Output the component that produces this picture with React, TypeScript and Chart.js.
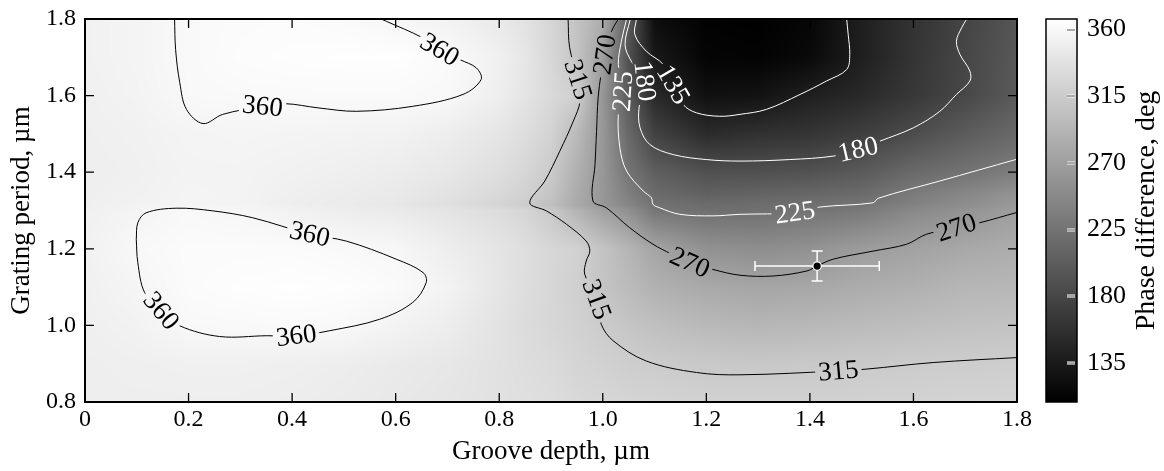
import { useEffect, useRef } from "react";
import { Chart, registerables } from "chart.js";

Chart.register(...registerables);

const FONT = '"Liberation Serif", "Times New Roman", serif';

// ---- axes ----
const xTicks = [0, 0.2, 0.4, 0.6, 0.8, 1.0, 1.2, 1.4, 1.6, 1.8];
const yTicks = [0.8, 1.0, 1.2, 1.4, 1.6, 1.8];
const cbTicks = [135, 180, 225, 270, 315, 360];
const cbMin = 108.7;
const cbMax = 367.1;

const gridX = [0, 0.1, 0.2, 0.3, 0.4, 0.5, 0.6, 0.7, 0.8, 0.85, 0.9, 0.95, 1.0, 1.05, 1.1, 1.2, 1.3, 1.4, 1.5, 1.6, 1.7, 1.8];
const gridY = [0.8, 0.9, 1.0, 1.1, 1.2, 1.3, 1.315, 1.34, 1.4, 1.5, 1.6, 1.7, 1.8];
const phase080 = [350, 350, 350, 350, 349, 347, 344, 341, 337, 335, 333, 328, 326, 324, 323, 321, 320, 320, 321, 322, 323, 324];
const phase090 = [350, 351, 352, 352, 351, 349, 346, 343, 337, 333, 330, 324, 321, 317, 315, 312, 311, 312, 313, 315, 316, 317];
const phase100 = [351, 354, 360.5, 361, 362, 361, 355, 349, 338, 331, 326, 321, 315, 308, 303, 296, 293, 295, 298, 301, 304, 306];
const phase110 = [352, 357, 363, 365, 366, 365, 362, 355, 341, 333, 326, 319, 307, 298, 288, 280, 276, 278, 283, 287, 293, 294];
const phase120 = [353, 360, 363, 363, 363, 361, 359, 350, 340, 334, 326, 321, 307, 292, 276, 256, 252, 256, 267, 273, 279, 284];
const phase130 = [352, 356, 360.5, 358, 353, 349, 346, 340, 332, 325, 312, 291, 271, 255, 228, 221, 222, 226, 231, 247, 257, 269];
const phase1315 = [351, 354, 356, 355, 350, 347, 343, 335, 324, 316, 302, 280, 262, 244, 224, 218, 219, 222, 226, 240, 252, 264];
const phase134 = [351, 353, 356, 355, 351, 348, 345, 338, 328, 320, 307, 282, 262, 238, 218, 208, 211, 214, 218, 234, 246, 259];
const phase140 = [350, 352, 355, 355, 353, 351, 348, 343, 334, 326, 314, 287, 262, 226, 205, 190, 190, 192, 200, 216, 225, 236];
const phase150 = [351, 353, 356, 357, 356, 355, 354, 349, 341, 333, 322, 297, 262, 215, 176, 152, 158, 162, 172, 186, 202, 215];
const phase160 = [352, 355, 360.5, 361.5, 362, 362, 362, 360.5, 350, 340, 329, 318, 261, 200, 150, 125, 127, 140, 150, 165, 181, 200];
const phase170 = [353, 356, 361, 364, 365, 366, 366, 362, 352, 342, 327, 307, 270, 190, 134, 113, 112, 118, 140, 162, 180, 198];
const phase180 = [353, 356, 361, 363, 364, 362, 358, 354, 345, 338, 325, 307, 284, 200, 122, 111, 109, 115, 140, 160, 178, 195];
const phaseGrid = [phase080, phase090, phase100, phase110, phase120, phase130, phase1315, phase134, phase140, phase150, phase160, phase170, phase180];

// ---- contour lines (groove depth, grating period) ----
type P = { x: number; y: number };
const pts = (a: number[][]): P[] => a.map(([x, y]) => ({ x, y }));

const contour360Upper = pts([
  [0.173, 1.8], [0.175, 1.72], [0.183, 1.634], [0.196, 1.564], [0.228, 1.527], [0.266, 1.551], [0.343, 1.572],
  [0.386, 1.579], [0.45, 1.568], [0.524, 1.559], [0.633, 1.572], [0.73, 1.603], [0.765, 1.642], [0.756, 1.672],
  [0.724, 1.694], [0.685, 1.72], [0.652, 1.751], [0.582, 1.794], [0.572, 1.8],
]);
const contour360Lower = pts([
  [0.099, 1.225], [0.102, 1.268], [0.118, 1.294], [0.176, 1.306], [0.247, 1.299], [0.324, 1.281], [0.434, 1.238],
  [0.505, 1.22], [0.601, 1.173], [0.653, 1.138], [0.659, 1.112], [0.633, 1.06], [0.569, 1.016], [0.472, 0.986],
  [0.408, 0.973], [0.35, 0.973], [0.26, 0.971], [0.183, 0.999], [0.147, 1.038], [0.115, 1.086], [0.102, 1.164],
  [0.099, 1.225],
]);
const contour315 = pts([
  [0.933, 1.8], [0.936, 1.725], [0.952, 1.642], [0.956, 1.585], [0.943, 1.533], [0.917, 1.455], [0.888, 1.377],
  [0.859, 1.32], [0.891, 1.299], [0.93, 1.264], [0.968, 1.22], [0.975, 1.194], [0.968, 1.168], [0.965, 1.134],
  [0.988, 1.068], [0.997, 1.003], [1.02, 0.96], [1.084, 0.907], [1.181, 0.877], [1.265, 0.871], [1.455, 0.881],
  [1.51, 0.886], [1.638, 0.903], [1.8, 0.916],
]);
const contour270 = pts([
  [1.03, 1.8], [1.017, 1.768], [1.004, 1.707], [0.997, 1.659], [0.991, 1.594], [0.988, 1.507], [0.985, 1.42],
  [0.981, 1.325], [1.007, 1.307], [1.052, 1.255], [1.097, 1.212], [1.133, 1.186], [1.168, 1.164], [1.213, 1.146],
  [1.265, 1.131], [1.329, 1.129], [1.394, 1.142], [1.414, 1.155], [1.445, 1.173], [1.522, 1.194], [1.587, 1.212],
  [1.625, 1.238], [1.683, 1.255], [1.728, 1.268], [1.8, 1.295],
]);
const contour225 = pts([
  [1.046, 1.8], [1.036, 1.742], [1.03, 1.681], [1.039, 1.611], [1.03, 1.551], [1.033, 1.464], [1.046, 1.403],
  [1.078, 1.351], [1.094, 1.333], [1.097, 1.316], [1.11, 1.307], [1.149, 1.29], [1.213, 1.286], [1.265, 1.29],
  [1.371, 1.294], [1.419, 1.309], [1.522, 1.32], [1.532, 1.332], [1.651, 1.377], [1.8, 1.434],
]);
const contour180 = pts([
  [1.053, 1.8], [1.043, 1.733], [1.055, 1.69], [1.081, 1.638], [1.07, 1.568], [1.072, 1.516], [1.091, 1.472],
  [1.136, 1.446], [1.2, 1.433], [1.265, 1.429], [1.361, 1.433], [1.445, 1.442], [1.493, 1.459], [1.535, 1.481],
  [1.6, 1.516], [1.651, 1.559], [1.683, 1.603], [1.709, 1.638], [1.709, 1.664], [1.69, 1.707], [1.683, 1.742],
  [1.693, 1.777], [1.703, 1.8],
]);
const contour135 = pts([
  [1.065, 1.8], [1.062, 1.759], [1.084, 1.716], [1.117, 1.681], [1.136, 1.629], [1.155, 1.577], [1.181, 1.555],
  [1.226, 1.546], [1.265, 1.551], [1.316, 1.564], [1.381, 1.603], [1.432, 1.638], [1.471, 1.668], [1.477, 1.707],
  [1.474, 1.759], [1.471, 1.8],
]);

const contourSets = [
  { level: 360, color: "#000", points: contour360Upper },
  { level: 360, color: "#000", points: contour360Lower },
  { level: 315, color: "#000", points: contour315 },
  { level: 270, color: "#000", points: contour270 },
  { level: 225, color: "#fff", points: contour225 },
  { level: 180, color: "#fff", points: contour180 },
  { level: 135, color: "#fff", points: contour135 },
];

// contour labels: level, position (data), rotation (deg)
const labelLevels = [360, 360, 360, 360, 360, 315, 315, 315, 270, 270, 270, 225, 225, 180, 180, 135];
const labelX = [0.343, 0.685, 0.434, 0.408, 0.147, 0.952, 0.988, 1.455, 1.004, 1.168, 1.683, 1.039, 1.371, 1.081, 1.493, 1.136];
const labelY = [1.572, 1.72, 1.238, 0.973, 1.038, 1.642, 1.068, 0.881, 1.707, 1.164, 1.255, 1.611, 1.294, 1.638, 1.459, 1.629];
const labelAngle = [6, 31, 13, -7, 50, 72, 70, -5, -82, 24, -18, -86, -8, 83, -13, 60];

// measured point with error bars
const measured = { x: 1.414, y: 1.155 };
const measuredErrX = 0.12;
const measuredErrY = 0.039;

const grayOf = (v: number) => {
  const t = (v - cbMin) / (cbMax - cbMin);
  return Math.max(0, Math.min(255, Math.round(t * 255)));
};

const seg = (arr: number[], v: number) => {
  let i = 0;
  while (i < arr.length - 2 && v > arr[i + 1]) i++;
  const t = Math.max(0, Math.min(1, (v - arr[i]) / (arr[i + 1] - arr[i])));
  return [i, t];
};

const fieldAt = (x: number, y: number) => {
  const [i, tx] = seg(gridX, x);
  const [j, ty] = seg(gridY, y);
  const a = phaseGrid[j][i], b = phaseGrid[j][i + 1];
  const c = phaseGrid[j + 1][i], d = phaseGrid[j + 1][i + 1];
  return (a * (1 - tx) + b * tx) * (1 - ty) + (c * (1 - tx) + d * tx) * ty;
};

const labelFont = `27px ${FONT}`;

const contourPlugin = {
  id: "contourField",
  beforeDatasetsDraw(chart: any) {
    const { ctx, chartArea: a, scales } = chart;
    const xs = scales.x, ys = scales.y;
    const w = Math.round(a.right - a.left), h = Math.round(a.bottom - a.top);
    const off = document.createElement("canvas");
    off.width = w; off.height = h;
    const octx = off.getContext("2d")!;
    const img = octx.createImageData(w, h);
    const colX: number[] = [];
    for (let i = 0; i < w; i++) colX.push(xs.getValueForPixel(a.left + i + 0.5));
    for (let j = 0; j < h; j++) {
      const yv = ys.getValueForPixel(a.top + j + 0.5);
      for (let i = 0; i < w; i++) {
        const g = grayOf(fieldAt(colX[i], yv));
        const k = (j * w + i) * 4;
        img.data[k] = g; img.data[k + 1] = g; img.data[k + 2] = g; img.data[k + 3] = 255;
      }
    }
    octx.putImageData(img, 0, 0);
    ctx.drawImage(off, a.left, a.top);

    // clip label holes out of the contour lines
    ctx.save();
    ctx.font = labelFont;
    ctx.beginPath();
    ctx.rect(0, 0, chart.width, chart.height);
    labelLevels.forEach((lv, n) => {
      const px = xs.getPixelForValue(labelX[n]);
      const py = ys.getPixelForValue(labelY[n]);
      const hw = ctx.measureText(String(lv)).width / 2 + 3;
      const hh = 10;
      const r = (labelAngle[n] * Math.PI) / 180;
      const cs = Math.cos(r), sn = Math.sin(r);
      const corners = [[-hw, -hh], [hw, -hh], [hw, hh], [-hw, hh]].map(([u, v]) => [px + u * cs - v * sn, py + u * sn + v * cs]);
      ctx.moveTo(corners[0][0], corners[0][1]);
      for (let q = 1; q < 4; q++) ctx.lineTo(corners[q][0], corners[q][1]);
      ctx.closePath();
    });
    ctx.clip("evenodd");
  },
  beforeDatasetDraw(chart: any, args: any) {
    if (args.index !== 0) return;
    const { ctx, scales } = chart;
    const xs = scales.x, ys = scales.y;
    const cx = xs.getPixelForValue(measured.x), cy = ys.getPixelForValue(measured.y);
    const x0 = xs.getPixelForValue(measured.x - measuredErrX), x1 = xs.getPixelForValue(measured.x + measuredErrX);
    const y0 = ys.getPixelForValue(measured.y - measuredErrY), y1 = ys.getPixelForValue(measured.y + measuredErrY);
    ctx.save();
    ctx.strokeStyle = "#fff";
    ctx.lineWidth = 1.5;
    ctx.beginPath();
    ctx.moveTo(x0, cy); ctx.lineTo(x1, cy);
    ctx.moveTo(x0, cy - 5); ctx.lineTo(x0, cy + 5);
    ctx.moveTo(x1, cy - 5); ctx.lineTo(x1, cy + 5);
    ctx.moveTo(cx, y0); ctx.lineTo(cx, y1);
    ctx.moveTo(cx - 5.5, y0); ctx.lineTo(cx + 5.5, y0);
    ctx.moveTo(cx - 5.5, y1); ctx.lineTo(cx + 5.5, y1);
    ctx.stroke();
    ctx.restore();
  },
  afterDatasetsDraw(chart: any) {
    const { ctx, scales, chartArea: a } = chart;
    ctx.restore();
    const xs = scales.x, ys = scales.y, cb = scales.cb;
    // contour labels
    ctx.save();
    ctx.font = labelFont;
    ctx.textAlign = "center";
    ctx.textBaseline = "middle";
    labelLevels.forEach((lv, n) => {
      const px = xs.getPixelForValue(labelX[n]);
      const py = ys.getPixelForValue(labelY[n]);
      ctx.save();
      ctx.translate(px, py);
      ctx.rotate((labelAngle[n] * Math.PI) / 180);
      ctx.fillStyle = lv >= 270 ? "#000" : "#fff";
      ctx.fillText(String(lv), 0, 1);
      ctx.restore();
    });
    ctx.restore();

    // frame and inward ticks
    ctx.save();
    ctx.strokeStyle = "#000";
    ctx.lineWidth = 1.3;
    ctx.beginPath();
    xTicks.forEach((v) => {
      if (v <= 0 || v >= 1.8) return;
      const p = xs.getPixelForValue(v);
      ctx.moveTo(p, a.bottom); ctx.lineTo(p, a.bottom - 9);
      ctx.moveTo(p, a.top); ctx.lineTo(p, a.top + 9);
    });
    yTicks.forEach((v) => {
      if (v <= 0.8 || v >= 1.8) return;
      const p = ys.getPixelForValue(v);
      ctx.moveTo(a.left, p); ctx.lineTo(a.left + 9, p);
      ctx.moveTo(a.right, p); ctx.lineTo(a.right - 9, p);
    });
    ctx.stroke();
    ctx.lineWidth = 2;
    ctx.strokeRect(a.left, a.top, a.right - a.left, a.bottom - a.top);

    // colour bar
    const bl = cb.left + 29, br = cb.left + 60;
    const top = Math.round(cb.top), bot = Math.round(cb.bottom);
    for (let yy = top; yy < bot; yy++) {
      const g = grayOf(cb.getValueForPixel(yy + 0.5));
      ctx.fillStyle = `rgb(${g},${g},${g})`;
      ctx.fillRect(bl, yy, br - bl, 1);
    }
    cbTicks.forEach((v) => {
      const p = Math.round(cb.getPixelForValue(v));
      ctx.fillStyle = "#fff";
      ctx.fillRect(br - 10, p - 1.5, 8, 3);
      ctx.fillStyle = "#555";
      ctx.fillRect(br - 10, p - 0.5, 8, 1);
    });
    ctx.lineWidth = 1.5;
    ctx.strokeStyle = "#000";
    ctx.strokeRect(bl, top, br - bl, bot - top);

    // colour bar title
    ctx.save();
    ctx.translate(cb.left + 130, (cb.top + cb.bottom) / 2);
    ctx.rotate(-Math.PI / 2);
    ctx.font = `28px ${FONT}`;
    ctx.fillStyle = "#000";
    ctx.textAlign = "center";
    ctx.textBaseline = "middle";
    ctx.fillText("Phase difference, deg", 0, 0);
    ctx.restore();
    ctx.restore();
  },
};

const noVPad = (s: any) => { s.paddingTop = 0; s.paddingBottom = 0; };

export default function App() {
  const ref = useRef<HTMLCanvasElement | null>(null);
  useEffect(() => {
    document.body.style.margin = "0";
    const canvas = ref.current!;
    const datasets: any[] = [
      {
        data: [measured],
        showLine: false,
        pointRadius: 4.2,
        pointBackgroundColor: "#000",
        pointBorderColor: "#fff",
        pointBorderWidth: 1.2,
      },
      ...contourSets.map((c) => ({
        data: c.points,
        showLine: true,
        borderColor: c.color,
        borderWidth: 1,
        pointRadius: 0,
        tension: 0.35,
        fill: false,
      })),
    ];
    const chart = new Chart(canvas, {
      type: "scatter",
      data: { datasets },
      plugins: [contourPlugin],
      options: {
        animation: false,
        responsive: false,
        devicePixelRatio: 1,
        layout: { padding: { top: 19, left: 0, right: 0, bottom: 0 } },
        plugins: { legend: { display: false }, tooltip: { enabled: false } },
        scales: {
          x: {
            type: "linear",
            position: "bottom",
            min: 0,
            max: 1.8,
            afterBuildTicks: (s: any) => { s.ticks = xTicks.map((value) => ({ value })); },
            afterFit: (s: any) => { s.height = 69; },
            grid: { display: false, drawTicks: false },
            border: { display: false },
            ticks: {
              autoSkip: false,
              maxRotation: 0,
              padding: 3,
              color: "#000",
              font: { family: FONT, size: 24 },
              callback: (v: any) => (Number(v) === 0 ? "0" : Number(v).toFixed(1)),
            },
            title: {
              display: true,
              text: "Groove depth, µm",
              color: "#000",
              font: { family: FONT, size: 27 },
              padding: { top: 0, bottom: 3 },
            },
          },
          y: {
            type: "linear",
            position: "left",
            min: 0.8,
            max: 1.8,
            afterBuildTicks: (s: any) => { s.ticks = yTicks.map((value) => ({ value })); },
            afterFit: (s: any) => { s.width = 85; noVPad(s); },
            grid: { display: false, drawTicks: false },
            border: { display: false },
            ticks: {
              autoSkip: false,
              padding: 9,
              color: "#000",
              font: { family: FONT, size: 24 },
              callback: (v: any) => Number(v).toFixed(1),
            },
            title: {
              display: true,
              text: "Grating period, µm",
              color: "#000",
              font: { family: FONT, size: 27 },
              padding: { top: 6, bottom: 0 },
            },
          },
          cb: {
            type: "linear",
            position: "right",
            min: cbMin,
            max: cbMax,
            afterBuildTicks: (s: any) => { s.ticks = cbTicks.map((value) => ({ value })); },
            afterFit: (s: any) => { s.width = 147; noVPad(s); },
            grid: { display: false, drawTicks: false },
            border: { display: false },
            ticks: {
              autoSkip: false,
              padding: 70,
              color: "#000",
              font: { family: FONT, size: 26 },
              callback: (v: any) => String(v),
            },
          },
        },
      } as any,
    });
    return () => chart.destroy();
  }, []);
  return <canvas ref={ref} width={1164} height={471} style={{ display: "block" }} />;
}
